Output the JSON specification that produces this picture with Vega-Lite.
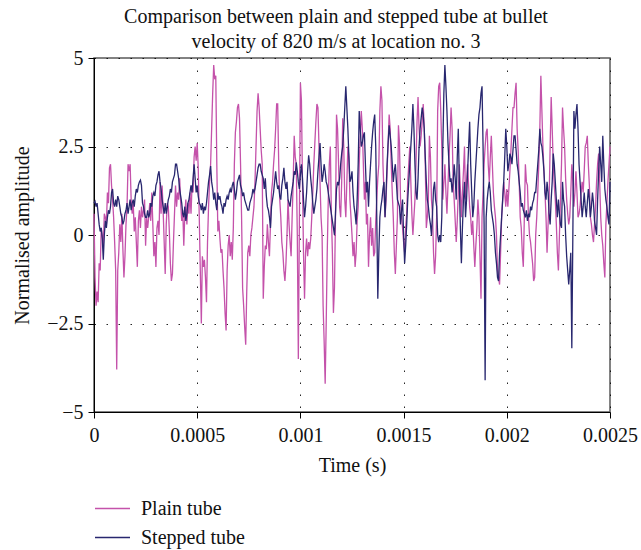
{
  "$schema": "https://vega.github.io/schema/vega-lite/v6.json",
  "width": 516,
  "height": 354,
  "autosize": {"type": "none"},
  "padding": {"left": 94, "top": 58, "right": 31, "bottom": 138},
  "background": "white",
  "title": {
    "text": ["Comparison between plain and stepped tube at bullet", "velocity of 820 m/s at location no. 3"],
    "font": "Liberation Serif",
    "fontSize": 20,
    "fontWeight": "normal",
    "color": "#111",
    "anchor": "middle",
    "dx": -16,
    "offset": -4,
    "lineHeight": 25
  },
  "data": {
    "values": [
      {"t":0,"p":0.6,"s":0.9},{"t":0.000005,"p":-1.2,"s":0.95},{"t":0.00001,"p":-2.0,"s":0.8},{"t":0.000015,"p":-1.6,"s":0.9},
      {"t":0.00002,"p":-1.9,"s":0.6},{"t":0.000025,"p":-0.8,"s":0.3},{"t":0.00003,"p":-1.0,"s":0.1},{"t":0.000035,"p":0.2,"s":0.2},
      {"t":0.00004,"p":0.0,"s":-0.1},{"t":0.000045,"p":-0.3,"s":-0.7},{"t":0.00005,"p":0.6,"s":0.0},{"t":0.000055,"p":0.5,"s":0.4},
      {"t":0.00006,"p":0.3,"s":0.2},{"t":0.000065,"p":1.2,"s":0.5},{"t":0.00007,"p":0.9,"s":0.7},{"t":0.000075,"p":1.9,"s":0.6},
      {"t":0.00008,"p":2.0,"s":0.8},{"t":0.000085,"p":1.4,"s":1.2},{"t":0.00009,"p":1.0,"s":1.3},{"t":0.000095,"p":0.5,"s":0.9},
      {"t":0.0001,"p":-0.2,"s":0.8},{"t":0.000105,"p":-1.0,"s":1.0},{"t":0.00011,"p":-3.8,"s":0.8},{"t":0.000115,"p":-1.0,"s":1.1},
      {"t":0.00012,"p":-0.5,"s":1.0},{"t":0.000125,"p":0.3,"s":0.8},{"t":0.00013,"p":-0.2,"s":0.6},{"t":0.000135,"p":0.6,"s":0.5},
      {"t":0.00014,"p":-0.4,"s":0.3},{"t":0.000145,"p":-1.2,"s":0.4},{"t":0.00015,"p":-0.6,"s":0.6},{"t":0.000155,"p":0.3,"s":0.7},
      {"t":0.00016,"p":0.8,"s":0.9},{"t":0.000165,"p":2.0,"s":0.6},{"t":0.00017,"p":1.8,"s":0.8},{"t":0.000175,"p":2.0,"s":1.0},
      {"t":0.00018,"p":1.0,"s":0.7},{"t":0.000185,"p":0.6,"s":0.9},{"t":0.00019,"p":0.9,"s":1.0},{"t":0.000195,"p":0.1,"s":0.8},
      {"t":0.0002,"p":0.5,"s":1.1},{"t":0.000205,"p":-0.2,"s":1.3},{"t":0.00021,"p":-0.9,"s":1.2},{"t":0.000215,"p":0.4,"s":1.4},
      {"t":0.00022,"p":0.7,"s":1.5},{"t":0.000225,"p":0.2,"s":1.55},{"t":0.00023,"p":0.8,"s":1.4},{"t":0.000235,"p":0.5,"s":0.9},
      {"t":0.00024,"p":0.7,"s":0.8},{"t":0.000245,"p":1.0,"s":0.6},{"t":0.00025,"p":-0.3,"s":0.5},{"t":0.000255,"p":0.5,"s":0.5},
      {"t":0.00026,"p":0.2,"s":0.7},{"t":0.000265,"p":0.5,"s":0.5},{"t":0.00027,"p":0.9,"s":0.6},{"t":0.000275,"p":0.4,"s":0.9},
      {"t":0.00028,"p":1.2,"s":0.8},{"t":0.000285,"p":0.3,"s":1.1},{"t":0.00029,"p":-0.6,"s":1.2},{"t":0.000295,"p":-0.2,"s":1.1},
      {"t":0.0003,"p":-0.9,"s":1.4},{"t":0.000305,"p":0.2,"s":1.5},{"t":0.00031,"p":0.4,"s":1.7},{"t":0.000315,"p":0.0,"s":1.8},
      {"t":0.00032,"p":1.5,"s":1.5},{"t":0.000325,"p":0.6,"s":1.3},{"t":0.00033,"p":1.4,"s":1.0},{"t":0.000335,"p":0.7,"s":0.8},
      {"t":0.00034,"p":-0.2,"s":0.6},{"t":0.000345,"p":-1.1,"s":0.9},{"t":0.00035,"p":0.3,"s":0.6},{"t":0.000355,"p":0.9,"s":0.8},
      {"t":0.00036,"p":0.8,"s":1.0},{"t":0.000365,"p":0.1,"s":1.1},{"t":0.00037,"p":-0.8,"s":1.3},{"t":0.000375,"p":-1.3,"s":1.2},
      {"t":0.00038,"p":-1.1,"s":1.5},{"t":0.000385,"p":-0.2,"s":1.6},{"t":0.00039,"p":0.6,"s":1.7},{"t":0.000395,"p":1.4,"s":2.0},
      {"t":0.0004,"p":0.8,"s":2.0},{"t":0.000405,"p":1.2,"s":1.8},{"t":0.00041,"p":1.0,"s":1.6},{"t":0.000415,"p":1.6,"s":1.3},
      {"t":0.00042,"p":0.9,"s":1.1},{"t":0.000425,"p":0.4,"s":0.9},{"t":0.00043,"p":0.7,"s":0.6},{"t":0.000435,"p":-0.3,"s":0.5},
      {"t":0.00044,"p":0.6,"s":0.8},{"t":0.000445,"p":1.0,"s":0.4},{"t":0.00045,"p":0.3,"s":0.6},{"t":0.000455,"p":0.9,"s":0.9},
      {"t":0.00046,"p":0.6,"s":1.0},{"t":0.000465,"p":1.2,"s":1.2},{"t":0.00047,"p":0.6,"s":1.4},{"t":0.000475,"p":1.4,"s":1.2},
      {"t":0.00048,"p":1.2,"s":1.6},{"t":0.000485,"p":2.2,"s":2.0},{"t":0.00049,"p":2.5,"s":1.6},{"t":0.000495,"p":2.1,"s":1.2},
      {"t":0.0005,"p":2.6,"s":1.4},{"t":0.000505,"p":1.9,"s":1.1},{"t":0.00051,"p":0.5,"s":0.9},{"t":0.000515,"p":-1.0,"s":0.85},
      {"t":0.00052,"p":-2.5,"s":0.7},{"t":0.000525,"p":-0.6,"s":0.9},{"t":0.00053,"p":-0.9,"s":0.6},{"t":0.000535,"p":-0.7,"s":0.8},
      {"t":0.00054,"p":-1.2,"s":0.7},{"t":0.000545,"p":-1.9,"s":0.9},{"t":0.00055,"p":-0.2,"s":1.2},{"t":0.000555,"p":0.8,"s":1.5},
      {"t":0.00056,"p":1.5,"s":1.7},{"t":0.000565,"p":2.0,"s":1.95},{"t":0.00057,"p":3.0,"s":1.5},{"t":0.000575,"p":4.0,"s":1.3},
      {"t":0.00058,"p":4.8,"s":1.0},{"t":0.000585,"p":4.4,"s":1.2},{"t":0.00059,"p":4.5,"s":0.9},{"t":0.000595,"p":2.0,"s":0.7},
      {"t":0.0006,"p":0.1,"s":1.2},{"t":0.000605,"p":0.4,"s":1.0},{"t":0.00061,"p":-0.1,"s":1.1},{"t":0.000615,"p":-0.5,"s":0.9},
      {"t":0.00062,"p":-0.4,"s":0.8},{"t":0.000625,"p":-1.0,"s":0.6},{"t":0.00063,"p":-1.5,"s":0.9},{"t":0.000635,"p":-2.2,"s":0.8},
      {"t":0.00064,"p":-2.7,"s":1.0},{"t":0.000645,"p":-1.0,"s":1.1},{"t":0.00065,"p":-0.3,"s":1.0},{"t":0.000655,"p":0.0,"s":1.2},
      {"t":0.00066,"p":-0.6,"s":1.3},{"t":0.000665,"p":-0.2,"s":1.2},{"t":0.00067,"p":-0.7,"s":1.4},{"t":0.000675,"p":0.2,"s":1.5},
      {"t":0.00068,"p":2.0,"s":1.3},{"t":0.000685,"p":2.9,"s":1.0},{"t":0.00069,"p":3.2,"s":1.2},{"t":0.000695,"p":3.6,"s":1.5},
      {"t":0.0007,"p":3.7,"s":1.6},{"t":0.000705,"p":3.3,"s":1.7},{"t":0.00071,"p":2.0,"s":1.4},{"t":0.000715,"p":0.5,"s":1.3},
      {"t":0.00072,"p":-1.5,"s":1.1},{"t":0.000725,"p":-2.0,"s":1.2},{"t":0.00073,"p":-2.6,"s":1.0},{"t":0.000735,"p":-3.1,"s":0.9},
      {"t":0.00074,"p":-1.6,"s":0.8},{"t":0.000745,"p":-0.5,"s":0.7},{"t":0.00075,"p":-0.3,"s":0.7},{"t":0.000755,"p":-0.6,"s":0.9},
      {"t":0.00076,"p":0.0,"s":1.0},{"t":0.000765,"p":0.2,"s":1.1},{"t":0.00077,"p":0.5,"s":1.3},{"t":0.000775,"p":0.8,"s":1.2},
      {"t":0.00078,"p":1.5,"s":1.3},{"t":0.000785,"p":2.5,"s":1.5},{"t":0.00079,"p":3.5,"s":1.7},{"t":0.000795,"p":4.0,"s":1.9},
      {"t":0.0008,"p":3.6,"s":2.0},{"t":0.000805,"p":3.0,"s":2.0},{"t":0.00081,"p":2.4,"s":1.8},{"t":0.000815,"p":2.0,"s":1.7},
      {"t":0.00082,"p":-1.8,"s":1.6},{"t":0.000825,"p":-0.9,"s":1.3},{"t":0.00083,"p":-0.3,"s":1.6},{"t":0.000835,"p":-0.4,"s":1.1},
      {"t":0.00084,"p":0.3,"s":0.8},{"t":0.000845,"p":-0.2,"s":0.7},{"t":0.00085,"p":-0.6,"s":0.5},{"t":0.000855,"p":0.3,"s":0.2},
      {"t":0.00086,"p":1.2,"s":0.8},{"t":0.000865,"p":1.5,"s":1.0},{"t":0.00087,"p":2.0,"s":1.2},{"t":0.000875,"p":2.4,"s":1.5},
      {"t":0.00088,"p":3.0,"s":1.8},{"t":0.000885,"p":3.7,"s":1.5},{"t":0.00089,"p":3.7,"s":1.3},{"t":0.000895,"p":2.0,"s":1.4},
      {"t":0.0009,"p":1.0,"s":1.1},{"t":0.000905,"p":0.5,"s":1.0},{"t":0.00091,"p":-0.2,"s":1.4},{"t":0.000915,"p":-0.5,"s":1.6},
      {"t":0.00092,"p":-1.0,"s":1.9},{"t":0.000925,"p":-1.3,"s":1.5},{"t":0.00093,"p":-0.8,"s":1.3},{"t":0.000935,"p":0.0,"s":1.5},
      {"t":0.00094,"p":1.0,"s":1.0},{"t":0.000945,"p":0.3,"s":0.9},{"t":0.00095,"p":-0.2,"s":0.8},{"t":0.000955,"p":-0.6,"s":1.1},
      {"t":0.00096,"p":0.5,"s":1.3},{"t":0.000965,"p":1.5,"s":1.5},{"t":0.00097,"p":2.8,"s":1.8},{"t":0.000975,"p":2.2,"s":1.7},
      {"t":0.00098,"p":2.0,"s":2.05},{"t":0.000985,"p":0.0,"s":1.8},{"t":0.00099,"p":-3.5,"s":1.5},{"t":0.000995,"p":0.3,"s":1.3},
      {"t":0.001,"p":4.3,"s":1.7},{"t":0.001005,"p":3.8,"s":2.0},{"t":0.00101,"p":1.5,"s":1.6},{"t":0.001015,"p":-0.5,"s":1.0},
      {"t":0.00102,"p":-1.8,"s":0.5},{"t":0.001025,"p":-0.5,"s":0.8},{"t":0.00103,"p":-0.1,"s":1.2},{"t":0.001035,"p":-0.6,"s":1.8},
      {"t":0.00104,"p":-0.2,"s":2.25},{"t":0.001045,"p":-0.4,"s":2.0},{"t":0.00105,"p":-0.1,"s":1.6},{"t":0.001055,"p":0.5,"s":1.3},
      {"t":0.00106,"p":1.2,"s":0.9},{"t":0.001065,"p":2.0,"s":0.6},{"t":0.00107,"p":2.6,"s":0.8},{"t":0.001075,"p":3.2,"s":1.0},
      {"t":0.00108,"p":3.7,"s":1.3},{"t":0.001085,"p":3.6,"s":1.8},{"t":0.00109,"p":2.5,"s":2.2},{"t":0.001095,"p":1.5,"s":2.6},
      {"t":0.0011,"p":0.5,"s":2.0},{"t":0.001105,"p":0.0,"s":1.5},{"t":0.00111,"p":-2.0,"s":1.7},{"t":0.001115,"p":-3.0,"s":2.0},
      {"t":0.00112,"p":-4.2,"s":1.8},{"t":0.001125,"p":-2.5,"s":1.5},{"t":0.00113,"p":-0.5,"s":1.4},{"t":0.001135,"p":1.0,"s":1.2},
      {"t":0.00114,"p":2.0,"s":1.0},{"t":0.001145,"p":2.5,"s":0.8},{"t":0.00115,"p":0.6,"s":0.6},{"t":0.001155,"p":-0.5,"s":0.4},
      {"t":0.00116,"p":-2.2,"s":0.2},{"t":0.001165,"p":-1.5,"s":0.0},{"t":0.00117,"p":0.5,"s":0.6},{"t":0.001175,"p":3.4,"s":1.3},
      {"t":0.00118,"p":3.0,"s":1.5},{"t":0.001185,"p":2.0,"s":1.4},{"t":0.00119,"p":0.8,"s":1.6},{"t":0.001195,"p":0.5,"s":2.0},
      {"t":0.0012,"p":1.5,"s":2.3},{"t":0.001205,"p":3.3,"s":2.5},{"t":0.00121,"p":2.5,"s":3.0},{"t":0.001215,"p":1.0,"s":3.6},
      {"t":0.00122,"p":0.5,"s":4.2},{"t":0.001225,"p":1.5,"s":3.6},{"t":0.00123,"p":2.5,"s":3.0},{"t":0.001235,"p":2.2,"s":2.2},
      {"t":0.00124,"p":1.0,"s":1.5},{"t":0.001245,"p":0.5,"s":1.6},{"t":0.00125,"p":0.0,"s":1.8},{"t":0.001255,"p":-0.6,"s":1.2},
      {"t":0.00126,"p":-0.2,"s":0.8},{"t":0.001265,"p":-0.9,"s":0.6},{"t":0.00127,"p":-0.5,"s":0.3},{"t":0.001275,"p":0.4,"s":1.0},
      {"t":0.00128,"p":0.8,"s":2.0},{"t":0.001285,"p":2.0,"s":3.5},{"t":0.00129,"p":2.8,"s":3.0},{"t":0.001295,"p":3.5,"s":2.5},
      {"t":0.0013,"p":3.0,"s":2.6},{"t":0.001305,"p":2.0,"s":2.8},{"t":0.00131,"p":1.0,"s":2.9},{"t":0.001315,"p":1.5,"s":2.0},
      {"t":0.00132,"p":0.3,"s":1.2},{"t":0.001325,"p":0.6,"s":1.5},{"t":0.00133,"p":-0.9,"s":0.8},{"t":0.001335,"p":0.0,"s":1.5},
      {"t":0.00134,"p":0.5,"s":2.0},{"t":0.001345,"p":-0.3,"s":2.5},{"t":0.00135,"p":0.2,"s":2.9},{"t":0.001355,"p":-0.6,"s":3.2},
      {"t":0.00136,"p":-0.5,"s":3.4},{"t":0.001365,"p":0.4,"s":2.5},{"t":0.00137,"p":1.0,"s":0.5},{"t":0.001375,"p":1.6,"s":-1.8},
      {"t":0.00138,"p":2.0,"s":-0.5},{"t":0.001385,"p":3.5,"s":0.5},{"t":0.00139,"p":4.2,"s":0.8},{"t":0.001395,"p":3.8,"s":1.0},
      {"t":0.0014,"p":2.0,"s":1.3},{"t":0.001405,"p":1.2,"s":1.5},{"t":0.00141,"p":0.5,"s":0.5},{"t":0.001415,"p":1.0,"s":1.2},
      {"t":0.00142,"p":1.8,"s":2.0},{"t":0.001425,"p":2.6,"s":2.6},{"t":0.00143,"p":3.4,"s":3.1},{"t":0.001435,"p":3.0,"s":2.8},
      {"t":0.00144,"p":2.0,"s":2.5},{"t":0.001445,"p":1.2,"s":2.0},{"t":0.00145,"p":0.5,"s":1.5},{"t":0.001455,"p":-0.5,"s":1.8},
      {"t":0.00146,"p":-1.1,"s":2.0},{"t":0.001465,"p":-0.3,"s":1.5},{"t":0.00147,"p":0.5,"s":1.0},{"t":0.001475,"p":3.1,"s":0.9},
      {"t":0.00148,"p":2.6,"s":0.8},{"t":0.001485,"p":1.0,"s":0.3},{"t":0.00149,"p":0.5,"s":0.7},{"t":0.001495,"p":0.2,"s":1.0},
      {"t":0.0015,"p":-0.2,"s":0.0},{"t":0.001505,"p":-0.5,"s":-0.8},{"t":0.00151,"p":0.2,"s":-0.3},{"t":0.001515,"p":0.6,"s":0.3},
      {"t":0.00152,"p":1.5,"s":1.0},{"t":0.001525,"p":2.0,"s":1.5},{"t":0.00153,"p":2.5,"s":2.0},{"t":0.001535,"p":1.5,"s":2.5},
      {"t":0.00154,"p":0.6,"s":3.0},{"t":0.001545,"p":0.0,"s":3.7},{"t":0.00155,"p":0.5,"s":3.0},{"t":0.001555,"p":1.0,"s":2.0},
      {"t":0.00156,"p":2.0,"s":1.2},{"t":0.001565,"p":3.2,"s":1.0},{"t":0.00157,"p":3.9,"s":1.6},{"t":0.001575,"p":3.0,"s":2.5},
      {"t":0.00158,"p":2.5,"s":3.0},{"t":0.001585,"p":2.8,"s":3.3},{"t":0.00159,"p":3.2,"s":3.6},{"t":0.001595,"p":3.7,"s":3.4},
      {"t":0.0016,"p":3.0,"s":3.0},{"t":0.001605,"p":2.0,"s":2.2},{"t":0.00161,"p":0.2,"s":1.5},{"t":0.001615,"p":0.5,"s":1.0},
      {"t":0.00162,"p":1.0,"s":0.8},{"t":0.001625,"p":2.8,"s":0.5},{"t":0.00163,"p":2.2,"s":0.3},{"t":0.001635,"p":1.0,"s":0.0},
      {"t":0.00164,"p":0.6,"s":0.6},{"t":0.001645,"p":-0.5,"s":1.3},{"t":0.00165,"p":-1.1,"s":1.5},{"t":0.001655,"p":-0.6,"s":1.0},
      {"t":0.00166,"p":0.5,"s":0.8},{"t":0.001665,"p":3.5,"s":0.0},{"t":0.00167,"p":4.2,"s":-0.2},{"t":0.001675,"p":4.3,"s":0.0},
      {"t":0.00168,"p":3.5,"s":-0.2},{"t":0.001685,"p":2.5,"s":0.5},{"t":0.00169,"p":1.0,"s":2.5},{"t":0.001695,"p":1.5,"s":4.0},
      {"t":0.0017,"p":2.0,"s":4.8},{"t":0.001705,"p":1.2,"s":4.2},{"t":0.00171,"p":0.6,"s":3.5},{"t":0.001715,"p":1.4,"s":2.6},
      {"t":0.00172,"p":2.2,"s":2.0},{"t":0.001725,"p":2.8,"s":1.5},{"t":0.00173,"p":3.6,"s":1.6},{"t":0.001735,"p":3.0,"s":1.2},
      {"t":0.00174,"p":1.5,"s":1.5},{"t":0.001745,"p":1.0,"s":2.0},{"t":0.00175,"p":0.4,"s":1.6},{"t":0.001755,"p":-0.2,"s":1.0},
      {"t":0.00176,"p":0.4,"s":2.2},{"t":0.001765,"p":1.2,"s":3.0},{"t":0.00177,"p":2.0,"s":1.5},{"t":0.001775,"p":1.3,"s":0.2},
      {"t":0.00178,"p":0.5,"s":-0.8},{"t":0.001785,"p":1.2,"s":0.2},{"t":0.00179,"p":1.8,"s":1.0},{"t":0.001795,"p":2.5,"s":1.5},
      {"t":0.0018,"p":1.0,"s":0.5},{"t":0.001805,"p":1.5,"s":1.0},{"t":0.00181,"p":2.0,"s":1.8},{"t":0.001815,"p":1.4,"s":2.5},
      {"t":0.00182,"p":0.8,"s":3.2},{"t":0.001825,"p":0.5,"s":2.0},{"t":0.00183,"p":0.0,"s":1.2},{"t":0.001835,"p":0.4,"s":0.5},
      {"t":0.00184,"p":-0.3,"s":0.8},{"t":0.001845,"p":-0.9,"s":1.5},{"t":0.00185,"p":-0.3,"s":2.0},{"t":0.001855,"p":0.2,"s":2.5},
      {"t":0.00186,"p":1.0,"s":3.0},{"t":0.001865,"p":0.5,"s":3.4},{"t":0.00187,"p":-0.6,"s":3.6},{"t":0.001875,"p":-1.8,"s":4.0},
      {"t":0.00188,"p":0.5,"s":4.2},{"t":0.001885,"p":1.2,"s":2.5},{"t":0.00189,"p":2.0,"s":0.3},{"t":0.001895,"p":2.5,"s":-4.1},
      {"t":0.0019,"p":2.9,"s":0.5},{"t":0.001905,"p":3.0,"s":1.0},{"t":0.00191,"p":2.0,"s":1.3},{"t":0.001915,"p":1.5,"s":1.5},
      {"t":0.00192,"p":2.2,"s":1.2},{"t":0.001925,"p":2.8,"s":0.7},{"t":0.00193,"p":2.0,"s":0.5},{"t":0.001935,"p":1.2,"s":0.3},
      {"t":0.00194,"p":0.8,"s":0.0},{"t":0.001945,"p":0.5,"s":-0.5},{"t":0.00195,"p":0.0,"s":-0.8},{"t":0.001955,"p":-1.0,"s":-1.2},
      {"t":0.00196,"p":-1.2,"s":-1.3},{"t":0.001965,"p":-1.4,"s":-0.5},{"t":0.00197,"p":-0.5,"s":0.0},{"t":0.001975,"p":0.5,"s":0.5},
      {"t":0.00198,"p":1.0,"s":1.0},{"t":0.001985,"p":1.5,"s":1.5},{"t":0.00199,"p":1.2,"s":2.2},{"t":0.001995,"p":0.8,"s":3.0},
      {"t":0.002,"p":1.3,"s":2.5},{"t":0.002005,"p":0.8,"s":1.8},{"t":0.00201,"p":1.3,"s":2.0},{"t":0.002015,"p":1.8,"s":2.3},
      {"t":0.00202,"p":2.4,"s":2.2},{"t":0.002025,"p":3.0,"s":2.0},{"t":0.00203,"p":3.6,"s":2.4},{"t":0.002035,"p":3.6,"s":2.8},
      {"t":0.00204,"p":4.0,"s":2.8},{"t":0.002045,"p":4.3,"s":2.4},{"t":0.00205,"p":3.0,"s":2.0},{"t":0.002055,"p":2.4,"s":1.8},
      {"t":0.00206,"p":1.5,"s":1.5},{"t":0.002065,"p":0.5,"s":1.2},{"t":0.00207,"p":0.2,"s":0.8},{"t":0.002075,"p":-0.5,"s":0.9},
      {"t":0.00208,"p":-0.9,"s":0.7},{"t":0.002085,"p":0.5,"s":0.6},{"t":0.00209,"p":2.0,"s":0.5},{"t":0.002095,"p":1.5,"s":0.7},
      {"t":0.0021,"p":1.4,"s":0.4},{"t":0.002105,"p":0.5,"s":0.6},{"t":0.00211,"p":0.0,"s":0.5},{"t":0.002115,"p":-0.2,"s":0.8},
      {"t":0.00212,"p":-0.5,"s":0.7},{"t":0.002125,"p":-0.8,"s":0.9},{"t":0.00213,"p":-1.3,"s":1.0},{"t":0.002135,"p":-1.2,"s":1.2},
      {"t":0.00214,"p":0.0,"s":1.2},{"t":0.002145,"p":0.5,"s":1.6},{"t":0.00215,"p":1.2,"s":2.0},{"t":0.002155,"p":2.0,"s":2.4},
      {"t":0.00216,"p":3.0,"s":3.0},{"t":0.002165,"p":4.5,"s":2.6},{"t":0.00217,"p":3.5,"s":2.5},{"t":0.002175,"p":2.5,"s":2.2},
      {"t":0.00218,"p":1.8,"s":1.8},{"t":0.002185,"p":1.2,"s":1.2},{"t":0.00219,"p":0.5,"s":1.0},{"t":0.002195,"p":-0.5,"s":1.5},
      {"t":0.0022,"p":0.3,"s":1.2},{"t":0.002205,"p":1.0,"s":0.6},{"t":0.00221,"p":2.5,"s":0.3},{"t":0.002215,"p":3.9,"s":1.0},
      {"t":0.00222,"p":3.0,"s":1.5},{"t":0.002225,"p":2.0,"s":2.3},{"t":0.00223,"p":1.4,"s":2.0},{"t":0.002235,"p":1.0,"s":1.5},
      {"t":0.00224,"p":0.3,"s":1.0},{"t":0.002245,"p":-0.5,"s":0.5},{"t":0.00225,"p":-1.0,"s":1.0},{"t":0.002255,"p":0.0,"s":0.6},
      {"t":0.00226,"p":1.0,"s":0.3},{"t":0.002265,"p":2.0,"s":0.2},{"t":0.00227,"p":3.6,"s":1.5},{"t":0.002275,"p":3.0,"s":1.0},
      {"t":0.00228,"p":2.5,"s":0.8},{"t":0.002285,"p":1.6,"s":0.0},{"t":0.00229,"p":1.0,"s":-0.6},{"t":0.002295,"p":0.6,"s":-1.0},
      {"t":0.0023,"p":0.3,"s":-1.4},{"t":0.002305,"p":0.5,"s":-1.0},{"t":0.00231,"p":1.2,"s":-0.5},{"t":0.002315,"p":2.0,"s":-3.2},
      {"t":0.00232,"p":1.5,"s":0.0},{"t":0.002325,"p":0.8,"s":3.5},{"t":0.00233,"p":1.2,"s":3.0},{"t":0.002335,"p":1.8,"s":3.4},
      {"t":0.00234,"p":1.2,"s":3.7},{"t":0.002345,"p":0.5,"s":3.0},{"t":0.00235,"p":0.6,"s":2.0},{"t":0.002355,"p":0.8,"s":1.5},
      {"t":0.00236,"p":1.2,"s":1.0},{"t":0.002365,"p":1.5,"s":0.5},{"t":0.00237,"p":1.2,"s":0.8},{"t":0.002375,"p":1.8,"s":1.2},
      {"t":0.00238,"p":2.5,"s":0.8},{"t":0.002385,"p":2.6,"s":0.5},{"t":0.00239,"p":2.8,"s":0.9},{"t":0.002395,"p":2.0,"s":1.3},
      {"t":0.0024,"p":1.4,"s":1.0},{"t":0.002405,"p":0.5,"s":0.5},{"t":0.00241,"p":0.3,"s":0.8},{"t":0.002415,"p":0.0,"s":1.2},
      {"t":0.00242,"p":-0.2,"s":0.9},{"t":0.002425,"p":0.3,"s":0.4},{"t":0.00243,"p":0.8,"s":0.2},{"t":0.002435,"p":1.5,"s":0.0},
      {"t":0.00244,"p":2.0,"s":1.0},{"t":0.002445,"p":2.3,"s":1.8},{"t":0.00245,"p":1.5,"s":2.5},{"t":0.002455,"p":0.5,"s":2.0},
      {"t":0.00246,"p":0.0,"s":1.5},{"t":0.002465,"p":-0.3,"s":2.8},{"t":0.00247,"p":-0.8,"s":2.0},{"t":0.002475,"p":-1.2,"s":1.3},
      {"t":0.00248,"p":0.3,"s":1.0},{"t":0.002485,"p":0.9,"s":0.8},{"t":0.00249,"p":1.5,"s":0.5},{"t":0.002495,"p":2.0,"s":0.3},
      {"t":0.0025,"p":2.5,"s":1.5}
    ]
  },
  "transform": [
    {"fold": ["p", "s"], "as": ["tube", "amplitude"]}
  ],
  "mark": {"type": "line", "strokeWidth": 1.3, "interpolate": "linear"},
  "encoding": {
    "x": {
      "field": "t",
      "type": "quantitative",
      "scale": {"domain": [0, 0.0025], "nice": false},
      "axis": {
        "title": "Time (s)",
        "values": [0, 0.0005, 0.001, 0.0015, 0.002, 0.0025],
        "format": "~g",
        "labelFlush": false,
        "labelPadding": 7,
        "titlePadding": 10
      }
    },
    "y": {
      "field": "amplitude",
      "type": "quantitative",
      "scale": {"domain": [-5, 5], "nice": false},
      "axis": {
        "title": "Normalised amplitude",
        "values": [-5, -2.5, 0, 2.5, 5],
        "format": ".2~g",
        "labelPadding": 5,
        "titleX": -72,
        "titleBaseline": "middle"
      }
    },
    "color": {
      "field": "tube",
      "type": "nominal",
      "scale": {"domain": ["p", "s"], "range": ["#c452aa", "#28276f"]},
      "legend": {
        "title": null,
        "orient": "none",
        "legendX": 0,
        "legendY": 432,
        "direction": "vertical",
        "symbolType": "stroke",
        "symbolSize": 1225,
        "symbolStrokeWidth": 1.5,
        "labelFont": "Liberation Serif",
        "labelFontSize": 20,
        "labelColor": "#111",
        "labelOffset": 10,
        "rowPadding": -10,
        "labelExpr": "datum.value == 'p' ? 'Plain tube' : 'Stepped tube'"
      }
    }
  },
  "config": {
    "font": "Liberation Serif",
    "view": {"stroke": "#5a5a5a", "strokeWidth": 1.5},
    "axis": {
      "labelFont": "Liberation Serif",
      "labelFontSize": 20,
      "labelColor": "#111",
      "titleFont": "Liberation Serif",
      "titleFontSize": 20,
      "titleFontWeight": "normal",
      "titleColor": "#111",
      "domainColor": "#000",
      "domainWidth": 1,
      "tickColor": "#000",
      "tickSize": 6,
      "labelPadding": 4,
      "gridColor": "#000",
      "gridOpacity": 0.85,
      "gridDash": [1.5, 10.5],
      "gridWidth": 1
    }
  }
}
